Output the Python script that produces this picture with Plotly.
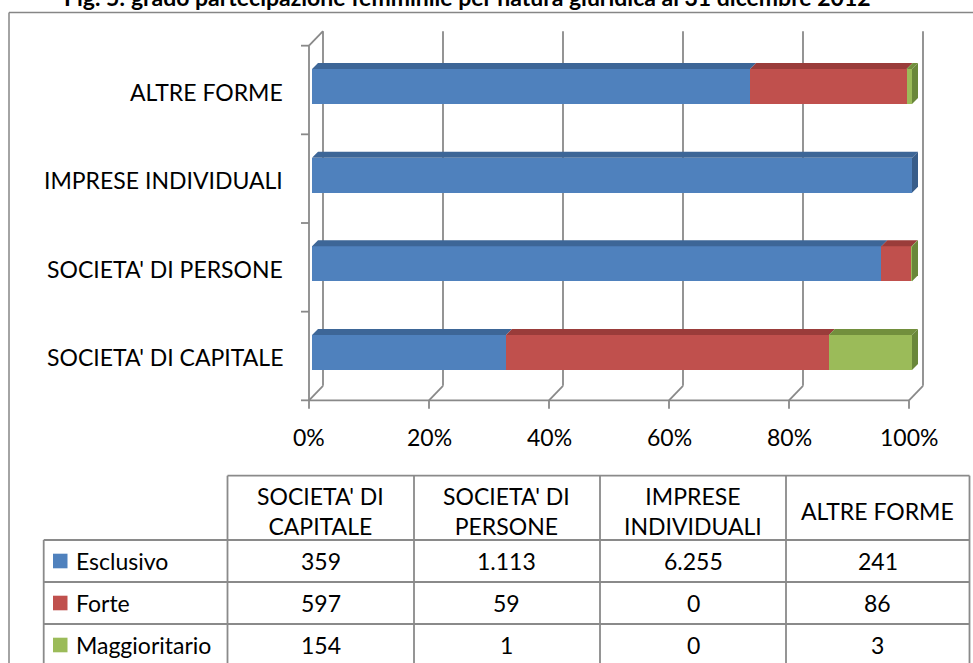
import plotly.graph_objects as go

# ---------------- data ----------------
categories = ["SOCIETA' DI CAPITALE", "SOCIETA' DI PERSONE", "IMPRESE INDIVIDUALI", "ALTRE FORME"]
header_lines = [["SOCIETA' DI", "CAPITALE"], ["SOCIETA' DI", "PERSONE"], ["IMPRESE", "INDIVIDUALI"], ["ALTRE FORME"]]
series_names = ["Esclusivo", "Forte", "Maggioritario"]
esclusivo = [359, 1113, 6255, 241]
forte = [597, 59, 0, 86]
maggioritario = [154, 1, 0, 3]
x_ticks = [0, 20, 40, 60, 80, 100]
x_tick_labels = ["0%", "20%", "40%", "60%", "80%", "100%"]
title_text = "Fig. 5: grado partecipazione femminile per natura giuridica al 31 dicembre 2012"

series_values = [esclusivo, forte, maggioritario]
front_colors = ["#4F81BD", "#C0504D", "#9BBB59"]
top_colors = ["#3D6697", "#9A3C3A", "#728F3D"]
side_colors = ["#385D8A", "#8E3735", "#6A873A"]

W, H = 973, 663
FONT = "Lato"
FS = 23
GRID = "#898989"

def px(x):
    return x / W

def py(y):
    return 1 - y / H

# bar plane pixel geometry
X0PX, X100PX = 312, 912
YTOP, YBOT = 42.17, 396.83
n = len(categories)
XU = 100 / (X100PX - X0PX)          # data units per px (x)
YU = n / (YBOT - YTOP)              # data units per px (y)
DXF, DYF = -3 * XU, -3.5 * YU       # front plane offset
DXB, DYB = 11 * XU, 11 * YU         # back plane offset
BAR_W = 0.395
DEPX, DEPY = 6 * XU, 6 * YU         # bar depth

ylo, yhi = -0.5, n - 0.5
XR = [-2.5, 104.5]
YR = [-0.75, n - 0.25]

def xpix(v):
    return X0PX + v / XU

def ypix(v):
    return YBOT - (v - ylo) / YU

x_domain = [px(xpix(XR[0])), px(xpix(XR[1]))]
y_domain = [py(ypix(YR[0])), py(ypix(YR[1]))]

ypos = list(range(n))

fig = go.Figure()

# main (front faces) bars
for name, vals, col in zip(series_names, series_values, front_colors):
    fig.add_trace(go.Bar(
        y=ypos, x=vals, name=name, orientation="h", width=BAR_W,
        marker=dict(color=col, line=dict(width=0)), showlegend=False,
        hoverinfo="skip"))

# top faces (3D effect) computed from percentages
totals = [sum(s[i] for s in series_values) for i in range(n)]
for k, vals in enumerate(series_values):
    xs, ys = [], []
    for i in range(n):
        if vals[i] == 0:
            continue
        start = sum(series_values[j][i] for j in range(k)) / totals[i] * 100
        end = start + vals[i] / totals[i] * 100
        yt = i + BAR_W / 2
        xs += [start, end, end + DEPX, start + DEPX, start, None]
        ys += [yt, yt, yt + DEPY, yt + DEPY, yt, None]
    fig.add_trace(go.Scatter(x=xs, y=ys, fill="toself", mode="lines",
                             line=dict(width=0), fillcolor=top_colors[k],
                             showlegend=False, hoverinfo="skip"))
# side faces: last non-zero segment of each bar
for i in range(n):
    last = max(k for k in range(len(series_values)) if series_values[k][i] > 0)
    yb, yt = i - BAR_W / 2, i + BAR_W / 2
    fig.add_trace(go.Scatter(
        x=[100, 100 + DEPX, 100 + DEPX, 100, 100],
        y=[yb, yb + DEPY, yt + DEPY, yt, yb],
        fill="toself", mode="lines", line=dict(width=0),
        fillcolor=side_colors[last], showlegend=False, hoverinfo="skip"))

shapes = []

def dline(x0, y0, x1, y1, ref="data", color=GRID, w=1.8):
    if ref == "data":
        shapes.append(dict(type="line", xref="x", yref="y", x0=x0, y0=y0, x1=x1, y1=y1,
                           line=dict(color=color, width=w), layer="below"))
    else:
        shapes.append(dict(type="line", xref="paper", yref="paper",
                           x0=px(x0), y0=py(y0), x1=px(x1), y1=py(y1),
                           line=dict(color=color, width=w), layer="above"))

# back wall gridlines + floor diagonals + tick marks
for v in x_ticks:
    dline(v + DXB, ylo + DYB, v + DXB, yhi + DYB)
    dline(v + DXF, ylo + DYF, v + DXB, ylo + DYB)
    dline(v + DXF, ylo + DYF, v + DXF, ylo + DYF - 8.5 * YU)
# front bottom axis line
dline(0 + DXF, ylo + DYF, 100 + DXF, ylo + DYF)
# left front axis, top diagonal
dline(0 + DXF, ylo + DYF, 0 + DXF, yhi + DYF)
dline(0 + DXF, yhi + DYF, 0 + DXB, yhi + DYB)
for b in range(n + 1):
    yb = b - 0.5
    dline(0 + DXF - 8 * XU, yb + DYF, 0 + DXF, yb + DYF)

annotations = []
# x tick labels
for v, lab in zip(x_ticks, x_tick_labels):
    annotations.append(dict(x=v + DXF, y=py(437), xref="x", yref="paper", text=lab,
                            showarrow=False, xanchor="center", yanchor="middle",
                            font=dict(family=FONT, size=FS, color="black")))
# category labels
for i, c in enumerate(categories):
    annotations.append(dict(x=px(285), y=i + DYF - 1.5 * YU, xref="paper", yref="y", text=c,
                            showarrow=False, xanchor="right", yanchor="middle",
                            font=dict(family=FONT, size=FS, color="black")))

# title (partially cut at top, as in the source)
annotations.append(dict(x=px(467), y=py(-3), xref="paper", yref="paper",
                        text="<b>" + title_text + "</b>", showarrow=False,
                        xanchor="center", yanchor="middle",
                        font=dict(family=FONT, size=23, color="black")))

# outer frame
dline(9, 12.5, 990, 12.5, ref="paper", color="#868686", w=1.5)
dline(9, 12.5, 9, 700, ref="paper", color="#868686", w=1.5)

# ---------------- data table ----------------
TL = "#8A8A8A"
col_x = [227.5, 414, 600, 786, 969.5]
tab_left = 43.7
row_y = [475.7, 540, 582, 624]
row_centers = [561, 603, 645]
dline(col_x[0], row_y[0], col_x[-1], row_y[0], ref="paper", color=TL, w=1.8)
for yy in row_y[1:]:
    dline(tab_left, yy, col_x[-1], yy, ref="paper", color=TL, w=1.8)
for xx in col_x:
    dline(xx, row_y[0], xx, 700, ref="paper", color=TL, w=1.8)
dline(tab_left, row_y[1], tab_left, 700, ref="paper", color=TL, w=1.8)

for j, lines in enumerate(header_lines):
    cx = (col_x[j] + col_x[j + 1]) / 2
    annotations.append(dict(x=px(cx), y=py(511), xref="paper", yref="paper",
                            text="<br>".join(lines),
                            showarrow=False, xanchor="center", yanchor="middle",
                            align="center",
                            font=dict(family=FONT, size=FS, color="black")))

def fmt(v):
    return f"{v:,}".replace(",", ".")

for r, (name, vals, col) in enumerate(zip(series_names, series_values, front_colors)):
    yc = row_centers[r]
    shapes.append(dict(type="rect", xref="paper", yref="paper",
                       x0=px(53), x1=px(67.5), y0=py(yc - 7.3), y1=py(yc + 7.3),
                       fillcolor=col, line=dict(width=0)))
    annotations.append(dict(x=px(74), y=py(yc), xref="paper", yref="paper", text=name,
                            showarrow=False, xanchor="left", yanchor="middle",
                            font=dict(family=FONT, size=FS, color="black")))
    for j, v in enumerate(vals):
        cx = (col_x[j] + col_x[j + 1]) / 2
        annotations.append(dict(x=px(cx), y=py(yc), xref="paper", yref="paper", text=fmt(v),
                                showarrow=False, xanchor="center", yanchor="middle",
                                font=dict(family=FONT, size=FS, color="black")))

fig.update_layout(
    width=W, height=H, margin=dict(l=0, r=0, t=0, b=0),
    paper_bgcolor="white", plot_bgcolor="rgba(0,0,0,0)",
    barmode="stack", barnorm="percent", bargap=0,
    xaxis=dict(domain=x_domain, range=XR, showgrid=False,
               zeroline=False, showline=False, showticklabels=False, fixedrange=True),
    yaxis=dict(domain=y_domain, range=YR, showgrid=False,
               zeroline=False, showline=False, showticklabels=False, fixedrange=True),
    shapes=shapes, annotations=annotations, showlegend=False,
    font=dict(family=FONT),
)

fig.write_html("out.html", config={"displayModeBar": False},
               post_script="document.body.style.margin='0';")
